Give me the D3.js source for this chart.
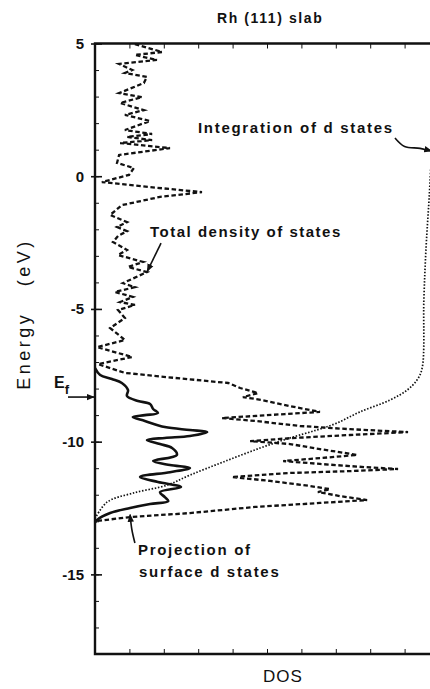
<!DOCTYPE html>
<html>
<head>
<meta charset="utf-8">
<script src="https://cdn.jsdelivr.net/npm/d3@7"></script>
<style>
  body { margin: 0; background: #fff; }
  text { font-family: "Liberation Sans", Arial, sans-serif; fill: #111; }
</style>
</head>
<body>
<div class="chart"></div>
<script>
// total density of states (dashed), energy in eV and DOS in tick units
var totalE = [4.98, 4.68, 4.57, 4.38, 4.23, 4.00, 3.89, 3.74, 3.51, 3.13, 2.98, 2.76, 2.49, 2.31, 2.08,
  1.74, 1.59, 1.48, 1.36, 1.25, 1.06, 0.80, 0.50, 0.31, 0.05, -0.22, -0.41, -0.60, -0.78, -1.09,
  -1.46, -1.73, -1.91, -2.07, -2.25, -2.48, -2.78, -2.97, -3.23, -3.42, -3.61, -4.03, -4.18, -4.36,
  -4.55, -4.74, -4.85, -5.04, -5.34, -5.72, -6.17, -6.44, -6.81, -7.08, -7.41, -7.60, -7.79, -7.98,
  -8.17, -8.32, -8.43, -8.66, -8.88, -8.96, -9.11, -9.22, -9.41, -9.53, -9.64, -9.75, -9.87, -9.98,
  -10.09, -10.28, -10.50, -10.62, -10.73, -10.84, -10.96, -11.03, -11.11, -11.18, -11.33, -11.48,
  -11.67, -11.79, -11.90, -12.05, -12.20, -12.31, -12.46, -12.69, -12.84, -12.99];
var totalDos = [1.16, 1.95, 1.16, 1.80, 0.70, 1.08, 0.87, 1.51, 1.42, 0.70, 1.37, 0.73, 1.42, 0.87, 1.60,
  0.87, 1.66, 0.93, 1.66, 0.73, 2.18, 0.70, 0.64, 1.13, 0.99, 0.20, 1.60, 3.11, 1.89, 0.78,
  0.44, 0.93, 0.64, 0.93, 0.67, 0.52, 0.93, 0.67, 1.40, 0.96, 1.51, 0.81, 1.16, 0.58,
  1.10, 0.73, 1.16, 0.67, 0.87, 0.44, 0.87, 0.06, 1.08, 0.09, 0.87, 2.33, 3.87, 4.22,
  4.74, 4.30, 4.85, 5.67, 6.54, 5.52, 3.69, 4.65, 5.96, 7.41, 9.10, 7.41, 5.67, 4.51,
  5.67, 6.54, 7.62, 6.54, 5.47, 6.54, 7.85, 8.81, 7.41, 5.67, 3.98, 5.09,
  6.25, 6.83, 6.48, 7.12, 7.91, 6.54, 4.65, 2.76, 1.02, 0.06];

// projection of surface d states (solid)
var surfE = [-7.23, -7.49, -7.64, -7.79, -8.06, -8.28, -8.47, -8.58, -8.77, -8.92, -9.00, -9.07, -9.22,
  -9.45, -9.56, -9.64, -9.79, -9.86, -9.94, -10.09, -10.24, -10.50, -10.73, -10.88, -10.99, -11.15,
  -11.33, -11.52, -11.71, -11.90, -12.09, -12.24, -12.35, -12.50, -12.69, -12.95, -13.05];
var surfDos = [0, 0.15, 0.49, 0.78, 0.96, 0.93, 1.25, 1.60, 1.69, 1.83, 1.45, 1.10, 1.45,
  2.03, 2.76, 3.26, 2.76, 2.03, 1.51, 1.89, 2.24, 2.38, 1.69, 2.18, 2.76, 2.18,
  1.31, 1.83, 2.50, 1.89, 2.03, 2.13, 1.60, 1.02, 0.44, 0.06, 0];

// integration of d states (dotted)
var integE = [-12.9, -12.28, -11.94, -11.64, -11.26, -10.77, -10.24, -9.86, -9.56, -9.30, -8.88,
  -8.43, -8.06, -7.68, -7.23, -4.66, -2.78, -0.90, 0.99, 2.5];
var integDos = [0, 0.35, 1.10, 2.09, 2.76, 3.72, 4.80, 5.67, 6.45, 7.03, 7.70,
  8.58, 9.07, 9.36, 9.51, 9.56, 9.62, 9.71, 9.80, 9.95];

var yMajor = [5, 0, -5, -10, -15];
var yMinor = d3.range(-18, 6, 1);
var xTicks = [1, 2, 3, 4, 5, 6, 7, 8, 9];
var fermi = -8.32;

var width = 430, height = 689;

var x = d3.scaleLinear().domain([0, 10]).range([95, 439]);
var y = d3.scaleLinear().domain([-18, 5]).range([654, 43.5]);

var svg = d3.select(".chart").append("svg")
  .attr("width", width)
  .attr("height", height);

// frame
svg.append("path")
  .attr("d", "M" + x(10) + "," + y(5) + "H" + x(0) + "V" + y(-18) + "H" + x(10))
  .attr("fill", "none")
  .attr("stroke", "#111")
  .attr("stroke-width", 2.4);

// x ticks, bottom and top, pointing inward
svg.append("g")
  .attr("transform", "translate(0," + y(-18) + ")")
  .call(d3.axisBottom(x).tickValues(xTicks).tickSizeInner(-5).tickSizeOuter(0).tickFormat(""))
  .call(function (g) { g.select(".domain").remove(); });
svg.append("g")
  .attr("transform", "translate(0," + y(5) + ")")
  .call(d3.axisTop(x).tickValues(xTicks).tickSizeInner(-5).tickSizeOuter(0).tickFormat(""))
  .call(function (g) { g.select(".domain").remove(); });

// y minor ticks
svg.append("g")
  .attr("transform", "translate(" + x(0) + ",0)")
  .call(d3.axisLeft(y).tickValues(yMinor).tickSizeInner(-4).tickSizeOuter(0).tickFormat(""))
  .call(function (g) { g.select(".domain").remove(); });

// y major ticks with labels (plain hyphen for the minus sign, as in the original)
var yAxis = svg.append("g")
  .attr("transform", "translate(" + x(0) + ",0)")
  .call(d3.axisLeft(y).tickValues(yMajor).tickSizeInner(-7).tickSizeOuter(0).tickPadding(11)
    .tickFormat(function (d) { return String(d); }))
  .call(function (g) { g.select(".domain").remove(); });
yAxis.selectAll(".tick line").attr("x1", -4).attr("stroke-width", 1.6);
yAxis.selectAll(".tick text")
  .style("font-family", "'Liberation Sans', Arial, sans-serif")
  .style("font-size", "15px")
  .style("font-weight", "bold")
  .attr("fill", "#111");
svg.selectAll(".tick line").attr("stroke", "#111");

var line = d3.line()
  .x(function (d) { return x(d[1]); })
  .y(function (d) { return y(d[0]); });

// integration curve
svg.append("path")
  .datum(d3.zip(integE, integDos))
  .attr("d", line.curve(d3.curveCatmullRom.alpha(0.5)))
  .attr("fill", "none")
  .attr("stroke", "#111")
  .attr("stroke-width", 1.7)
  .attr("stroke-dasharray", "1.5,1.7");

// total DOS
svg.append("path")
  .datum(d3.zip(totalE, totalDos))
  .attr("d", line.curve(d3.curveLinear))
  .attr("fill", "none")
  .attr("stroke", "#111")
  .attr("stroke-width", 2.3)
  .attr("stroke-dasharray", "4.5,2.6");

// surface d states
svg.append("path")
  .datum(d3.zip(surfE, surfDos))
  .attr("d", line.curve(d3.curveCatmullRom.alpha(0.5)))
  .attr("fill", "none")
  .attr("stroke", "#111")
  .attr("stroke-width", 2.6)
  .attr("stroke-linejoin", "round");

// arrowhead marker
svg.append("defs").append("marker")
  .attr("id", "head")
  .attr("viewBox", "0 0 10 10")
  .attr("refX", 9).attr("refY", 5)
  .attr("markerWidth", 8).attr("markerHeight", 8)
  .attr("markerUnits", "userSpaceOnUse")
  .attr("orient", "auto")
  .append("path")
  .attr("d", "M0,1L10,5L0,9Z")
  .attr("fill", "#111");

function arrow(pts, curve) {
  svg.append("path")
    .attr("d", d3.line().curve(curve || d3.curveLinear)
      .x(function (d) { return x(d[0]); }).y(function (d) { return y(d[1]); })(pts))
    .attr("fill", "none")
    .attr("stroke", "#111")
    .attr("stroke-width", 1.6)
    .attr("marker-end", "url(#head)");
}

arrow([[1.92, -2.52], [1.52, -3.58]]);
arrow([[8.72, 1.44], [9.0, 1.12], [9.45, 1.05], [9.78, 0.95]], d3.curveCatmullRom);
arrow([[1.16, -13.82], [1.07, -13.3], [1.02, -12.75]], d3.curveCatmullRom);

// Fermi level
svg.append("line")
  .attr("x1", 68).attr("x2", x(0) - 1)
  .attr("y1", y(fermi)).attr("y2", y(fermi))
  .attr("stroke", "#111").attr("stroke-width", 1.6)
  .attr("marker-end", "url(#head)");
var ef = svg.append("text")
  .attr("x", 54).attr("y", y(fermi) - 9)
  .style("font-size", "16px").style("font-weight", "bold");
ef.append("tspan").text("E");
ef.append("tspan").attr("dy", 6).style("font-size", "13px").text("f");

// texts
function label(t, px, py, size, sp) {
  return svg.append("text")
    .attr("x", px).attr("y", py)
    .style("font-size", size + "px")
    .style("font-weight", "bold")
    .style("letter-spacing", sp + "px")
    .text(t);
}
label("Rh (111) slab", 217, 23, 14, 1.6);
label("Integration of d states", 198, 133, 15, 1.7);
label("Total density of states", 150, 237, 15, 1.5);
label("Projection of", 138, 555, 15, 1.7);
label("surface d states", 139, 577, 15, 1.7);

svg.append("text")
  .attr("x", 283).attr("y", 682)
  .attr("text-anchor", "middle")
  .style("font-size", "17px")
  .style("letter-spacing", "1px")
  .text("DOS");

svg.append("text")
  .attr("transform", "translate(30,314) rotate(-90)")
  .attr("text-anchor", "middle")
  .style("font-size", "18px")
  .style("letter-spacing", "3.5px")
  .style("white-space", "pre")
  .text("Energy   (eV)");
</script>
</body>
</html>
